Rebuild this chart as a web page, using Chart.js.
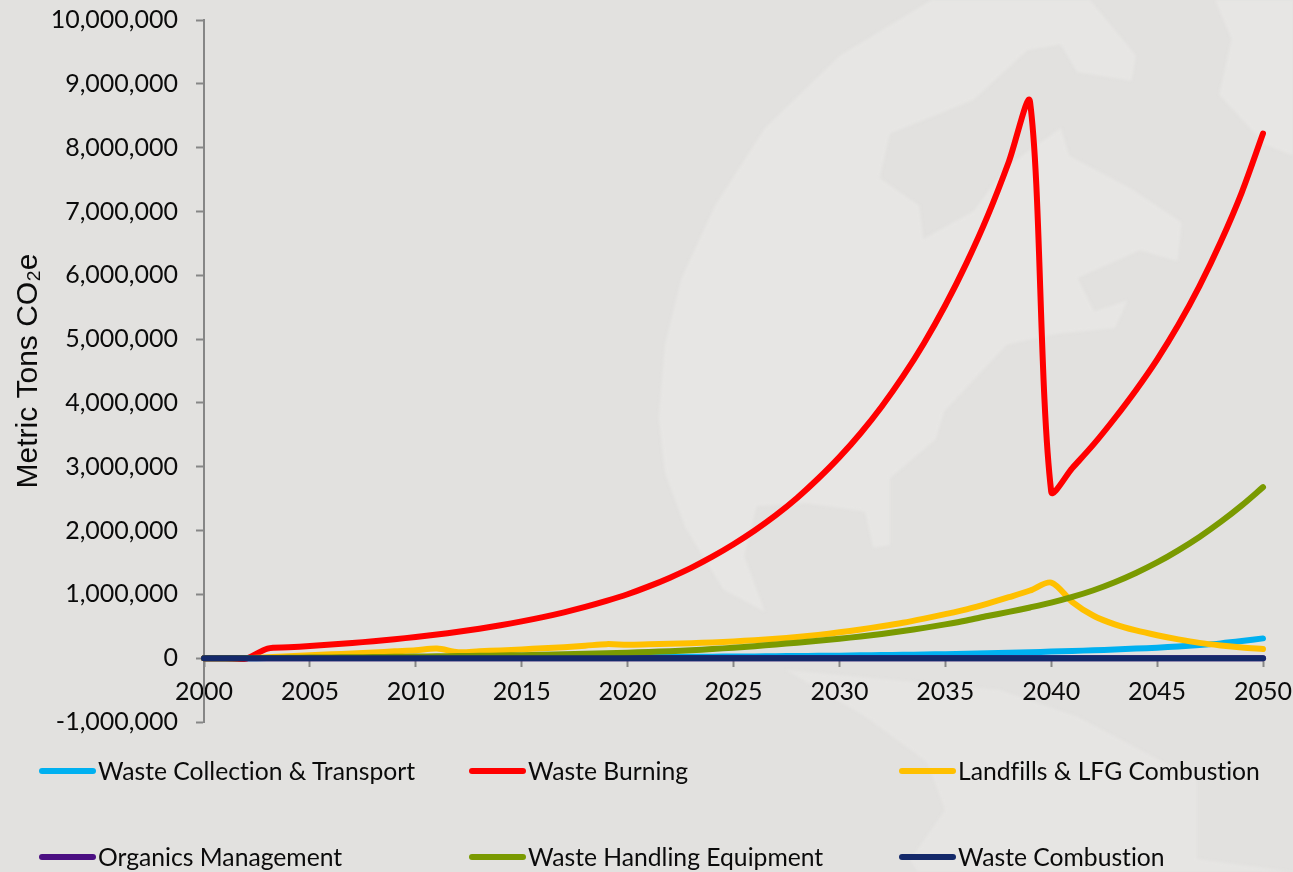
<!DOCTYPE html>
<html><head><meta charset="utf-8">
<style>
html,body{margin:0;padding:0;background:#e2e1df;width:1293px;height:872px;overflow:hidden}
#wrap{position:relative;width:1293px;height:872px}
#bg{position:absolute;left:0;top:0;filter:blur(1.5px)}
canvas{position:absolute;left:0;top:0}
.lg{position:absolute;font-family:Lato,sans-serif;font-size:24.7px;font-variant-ligatures:none;color:#0b0b0b;line-height:28px;white-space:nowrap}
.sw{position:absolute;height:6px;width:57px;border-radius:3px}
</style></head><body>
<div id="wrap">
<svg id="bg" width="1293" height="872">
<g transform="translate(640,0) scale(.41667,.5561)" fill="#e7e6e4">
<path d="M700 0 L1080 0 L1190 100 L1180 145 L1050 130 L1010 80 L930 90 L800 180 L600 240 L575 320 L670 370 L680 430 L800 380 L880 300 L1010 230 L1030 280 L1180 340 L1300 400 L1290 470 L1200 450 L1050 500 L1090 560 L1170 540 L1140 590 L1000 600 L880 620 L730 740 L710 790 L600 860 L600 980 L560 985 L540 920 L400 905 L280 910 L250 1000 L300 1100 L200 1060 L110 950 L60 850 L45 750 L60 620 L100 500 L180 370 L300 230 L480 100 Z"/>
<path d="M1380 0 L1420 70 L1390 170 L1500 260 L1568 280 L1568 0 Z"/>
</g>
<path fill="#e6e5e3" d="M786 670 L866 717 L927 762 L945 810 L910 860 L918 872 L1293 872 L1197 859 L1197 780 L1078 717 L1000 690 Z"/>
</svg>
<canvas id="c" width="1293" height="872"></canvas>
<div id="legend"></div>
</div>
<script src="https://cdn.jsdelivr.net/npm/chart.js@4/dist/chart.umd.min.js"></script>
<script>
const years=[2000,2001,2002,2003,2004,2005,2006,2007,2008,2009,2010,2011,2012,2013,2014,2015,2016,2017,2018,2019,2020,2021,2022,2023,2024,2025,2026,2027,2028,2029,2030,2031,2032,2033,2034,2035,2036,2037,2038,2039,2040,2041,2042,2043,2044,2045,2046,2047,2048,2049,2050];
const wasteCollection=[0,0,500,1000,1500,2000,2500,3000,3500,4000,4500,5000,6000,7000,8000,9000,10000,11000,12500,14000,16000,18000,20000,22000,24000,26000,28000,31000,34000,37000,40000,44000,48000,53000,58000,63000,69000,76000,84000,93000,103000,113000,124000,136000,150000,165000,183000,205000,232000,268000,310000];
const wasteBurning=[0,0,-5000,150000,170000,190000,213000,238000,266000,297000,332000,371000,414000,462000,516000,577000,644000,719000,803000,897000,1002000,1125000,1262000,1415000,1590000,1785000,2000000,2240000,2510000,2815000,3150000,3525000,3945000,4415000,4940000,5530000,6190000,6930000,7780000,8720000,2610000,2980000,3350000,3760000,4200000,4680000,5220000,5830000,6520000,7300000,8220000];
const landfills=[0,0,2000,15000,30000,45000,60000,75000,90000,108000,125000,150000,95000,108000,122000,138000,155000,172000,195000,220000,212000,218000,225000,235000,247000,262000,282000,305000,332000,365000,405000,450000,500000,555000,620000,690000,765000,855000,955000,1060000,1185000,880000,665000,530000,435000,360000,295000,240000,200000,168000,145000];
const organics=[0,0,0,0,0,0,0,0,0,0,0,0,0,0,0,0,0,0,0,0,0,0,0,0,0,0,0,0,0,0,0,0,0,0,0,0,0,0,0,0,0,0,0,0,0,0,0,0,0,0,0];
const handlingEquipment=[0,0,1000,2000,5000,9000,12000,15000,18000,22000,26000,30000,34000,38000,42000,47000,53000,60000,68000,76000,86000,97000,110000,125000,143000,165000,188000,215000,243000,272000,305000,340000,380000,425000,475000,530000,590000,660000,725000,795000,870000,960000,1065000,1190000,1335000,1500000,1690000,1900000,2135000,2395000,2680000];
const wasteCombustion=[0,0,0,0,0,0,0,0,0,0,0,0,0,0,0,0,0,0,0,0,0,0,0,0,0,0,0,0,0,0,0,0,0,0,0,0,0,0,0,0,0,0,0,0,0,0,0,0,0,0,0];
const seriesNames=["Waste Collection & Transport","Waste Burning","Landfills & LFG Combustion","Organics Management","Waste Handling Equipment","Waste Combustion"];
const seriesValues=[wasteCollection,wasteBurning,landfills,organics,handlingEquipment,wasteCombustion];
const seriesColors=["#00b0f0","#ff0000","#ffc000","#4b0f82","#7a9a01","#14296a"];
const yTitle="Metric Tons CO\u2082e";

const ds=seriesNames.map((n,i)=>({label:n,data:years.map((y,k)=>({x:y,y:seriesValues[i][k]})),
  borderColor:seriesColors[i],backgroundColor:seriesColors[i],borderWidth:6,tension:0.3,pointRadius:0,
  borderCapStyle:'round',borderJoinStyle:'round',fill:false,clip:false,order:seriesNames.length-i}));
const labelFont={family:'Lato, sans-serif',size:25};
new Chart(document.getElementById('c'),{type:'line',data:{datasets:ds},options:{
 responsive:false,animation:false,
 layout:{padding:{left:0,top:20,right:30,bottom:150}},
 plugins:{legend:{display:false},tooltip:{enabled:false}},
 scales:{
  x:{type:'linear',min:2000,max:2050,position:{y:0},
     afterFit(s){s.paddingLeft=0;s.paddingRight=0;},
     grid:{drawOnChartArea:false,drawTicks:true,tickLength:8,tickColor:'#868686',tickWidth:2},
     border:{display:true,color:'#868686',width:2},
     afterBuildTicks(s){s.ticks=years.filter(y=>y%5===0).map(v=>({value:v}))},
     ticks:{font:labelFont,color:'#0b0b0b',maxRotation:0,autoSkip:false,padding:11,callback:v=>String(v)}},
  y:{min:-1000000,max:10000000,
     afterFit(s){s.width=204;s.paddingTop=0;s.paddingBottom=0;},
     grid:{drawOnChartArea:false,tickLength:8,tickColor:'#868686',tickWidth:2},
     border:{color:'#868686',width:2},
     ticks:{stepSize:1000000,font:labelFont,color:'#0b0b0b',padding:18,callback:v=>v.toLocaleString('en-US')},
     title:{display:true,text:yTitle,color:'#0b0b0b',font:{family:'"Liberation Sans", Arial, sans-serif',size:30},padding:{top:11,bottom:0}}}
 }}});
const lgX=[40,470,900],lgY=[771,857];
const L=document.getElementById('legend');
seriesNames.forEach((n,i)=>{
  const cx=lgX[i%3],cy=lgY[Math.floor(i/3)];
  const s=document.createElement('div');s.className='sw';s.style.cssText=`left:${cx-1}px;top:${cy-3}px;background:${seriesColors[i]}`;L.appendChild(s);
  const t=document.createElement('div');t.className='lg';t.textContent=n;t.style.cssText=`left:${cx+58}px;top:${cy-14}px`;L.appendChild(t);
});
</script>
</body></html>
